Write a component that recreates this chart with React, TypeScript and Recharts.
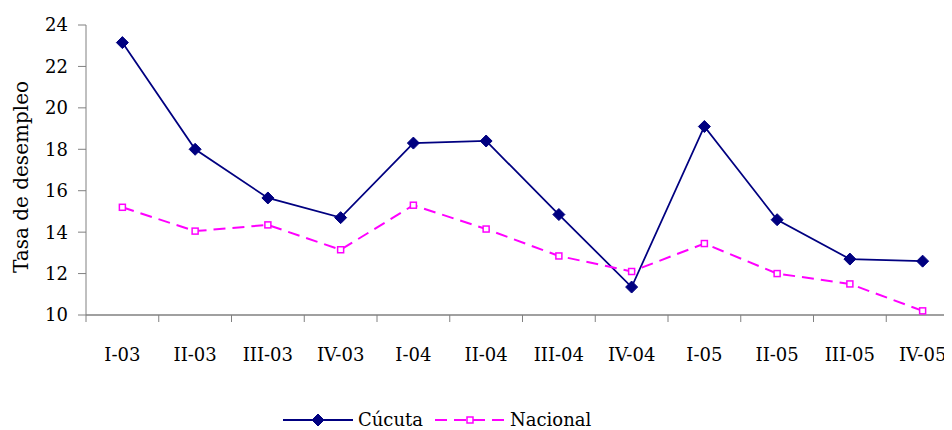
import { LineChart, Line, XAxis, YAxis } from "recharts";

const periods = ["I-03", "II-03", "III-03", "IV-03", "I-04", "II-04", "III-04", "IV-04", "I-05", "II-05", "III-05", "IV-05"];
const cucuta = [23.15, 18.0, 15.65, 14.7, 18.3, 18.4, 14.85, 11.35, 19.1, 14.6, 12.7, 12.6];
const nacional = [15.2, 14.05, 14.35, 13.15, 15.3, 14.15, 12.85, 12.1, 13.45, 12.0, 11.5, 10.2];
const yTicks = [10, 12, 14, 16, 18, 20, 22, 24];

const data = periods.map((period, i) => ({
  period,
  cucuta: cucuta[i],
  nacional: nacional[i],
}));

const FONT = "'DejaVu Serif', serif";
const NAVY = "#000080";
const MAGENTA = "#FF00FF";
const AXIS = "#808080";

// plot spans 86..959 px, 12 categories
const BAND = 873 / 12;

const Diamond = ({ cx, cy }: any) => (
  <polygon
    points={`${cx},${cy - 6} ${cx + 6},${cy} ${cx},${cy + 6} ${cx - 6},${cy}`}
    fill={NAVY}
    stroke={NAVY}
  />
);

const Square = ({ cx, cy }: any) => (
  <rect x={cx - 3} y={cy - 3} width={6} height={6} fill="#fff" stroke={MAGENTA} strokeWidth={1.5} />
);

const CategoryTick = ({ x, y, payload, index }: any) => (
  <g>
    <line x1={x - BAND / 2} x2={x - BAND / 2} y1={y - 7} y2={y} stroke={AXIS} />
    {index === periods.length - 1 && (
      <line x1={x + BAND / 2} x2={x + BAND / 2} y1={y - 7} y2={y} stroke={AXIS} />
    )}
    <text x={x} y={y + 39} textAnchor="middle" fontFamily={FONT} fontSize={18} fill="#000">
      {payload.value}
    </text>
  </g>
);

const YLabel = () => (
  <text
    transform="translate(21,177) rotate(-90)"
    textAnchor="middle"
    dominantBaseline="central"
    fontFamily={FONT}
    fontSize={20}
    fill="#000"
  >
    Tasa de desempleo
  </text>
);

const LegendItem = ({ color, dash, marker, label }: any) => (
  <div style={{ display: "flex", alignItems: "center", marginRight: 12 }}>
    <svg width={70} height={18}>
      <line x1={0} x2={70} y1={9} y2={9} stroke={color} strokeWidth={2} strokeDasharray={dash} />
      {marker === "diamond" ? <Diamond cx={35} cy={9} /> : <Square cx={35} cy={9} />}
    </svg>
    <span style={{ marginLeft: 5 }}>{label}</span>
  </div>
);

export default function App() {
  return (
    <div
      style={{
        position: "relative",
        width: 952,
        height: 430,
        overflow: "hidden",
        marginLeft: -8,
        marginTop: -8,
        background: "#fff",
      }}
    >
      <div
        style={{
          position: "absolute",
          left: 7,
          top: -17,
          fontFamily: FONT,
          fontWeight: "bold",
          fontSize: 24,
          lineHeight: "28px",
          whiteSpace: "nowrap",
        }}
      >
        Enero 2003 - Diciembre 2005
      </div>
      <LineChart width={980} height={430} data={data} margin={{ top: 25, right: 21, bottom: 0, left: 0 }}>
        <XAxis
          dataKey="period"
          interval={0}
          height={115}
          padding={{ left: BAND / 2, right: BAND / 2 }}
          tickLine={false}
          tickSize={7}
          tickMargin={0}
          axisLine={{ stroke: AXIS, strokeWidth: 1.5 }}
          tick={<CategoryTick />}
        />
        <YAxis
          width={86}
          domain={[10, 24]}
          ticks={yTicks}
          interval={0}
          tickSize={8}
          tickMargin={10}
          axisLine={{ stroke: AXIS }}
          tickLine={{ stroke: AXIS }}
          tick={{ fontFamily: FONT, fontSize: 18, fill: "#000" }}
          label={{ content: <YLabel /> }}
        />
        <Line
          dataKey="cucuta"
          stroke={NAVY}
          strokeWidth={1.75}
          dot={<Diamond />}
          activeDot={false}
          isAnimationActive={false}
        />
        <Line
          dataKey="nacional"
          stroke={MAGENTA}
          strokeWidth={2}
          strokeDasharray="12 7"
          dot={<Square />}
          activeDot={false}
          isAnimationActive={false}
        />
      </LineChart>
      <div
        style={{
          position: "absolute",
          left: 283,
          top: 411,
          display: "flex",
          alignItems: "center",
          fontFamily: FONT,
          fontSize: 18,
          lineHeight: "18px",
          height: 18,
        }}
      >
        <LegendItem color={NAVY} marker="diamond" label="Cúcuta" />
        <LegendItem color={MAGENTA} dash="12 7" marker="square" label="Nacional" />
      </div>
    </div>
  );
}
